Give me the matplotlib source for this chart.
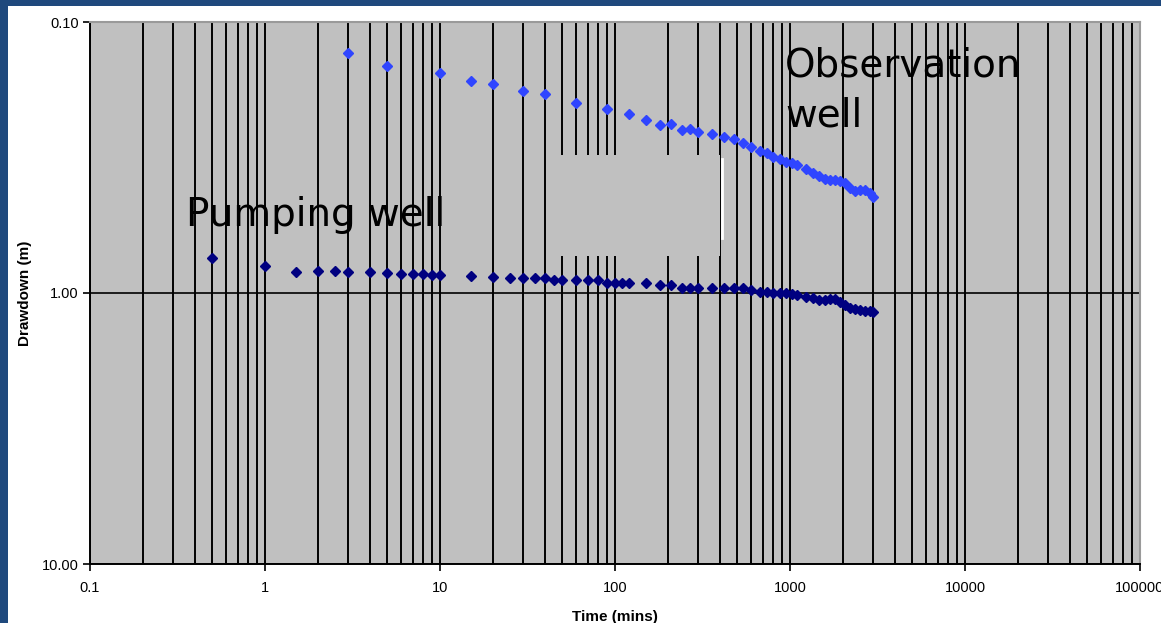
import numpy as np
import matplotlib.pyplot as plt
from matplotlib.patches import Rectangle
from matplotlib.ticker import FixedLocator, NullFormatter, LogLocator

# Time (mins) readings
t_pump = [0.5, 1, 1.5, 2, 2.5, 3, 4, 5, 6, 7, 8, 9, 10, 15, 20, 25, 30, 35, 40, 45,
          50, 60, 70, 80, 90, 100, 110, 120, 150, 180, 210, 240, 270, 300, 360, 420,
          480, 540, 600, 670, 740, 800, 880, 950, 1020, 1090, 1240, 1350, 1470, 1590,
          1700, 1810, 1930, 2060, 2200, 2350, 2510, 2680, 2860, 3000]
s_pump = [0.745, 0.794, 0.839, 0.827, 0.827, 0.839, 0.839, 0.846, 0.851, 0.851, 0.851,
          0.856, 0.856, 0.865, 0.871, 0.878, 0.883, 0.883, 0.883, 0.896, 0.896, 0.896,
          0.896, 0.896, 0.916, 0.916, 0.921, 0.921, 0.921, 0.937, 0.937, 0.956, 0.956,
          0.956, 0.956, 0.956, 0.956, 0.956, 0.975, 0.989, 0.994, 0.997, 1.003, 1.003,
          1.009, 1.017, 1.032, 1.046, 1.061, 1.061, 1.055, 1.055, 1.077, 1.107, 1.139,
          1.148, 1.155, 1.162, 1.165, 1.172]

t_obs = [3, 5, 10, 15, 20, 30, 40, 60, 90, 120, 150, 180, 210, 240, 270, 300, 360,
         420, 480, 540, 600, 670, 740, 800, 880, 950, 1020, 1090, 1240, 1350, 1470,
         1590, 1700, 1810, 1930, 2060, 2200, 2350, 2510, 2680, 2860, 3000]
s_obs = [0.1298, 0.145, 0.1546, 0.1646, 0.1693, 0.1797, 0.1843, 0.1995, 0.2094, 0.219,
         0.230, 0.240, 0.2386, 0.2504, 0.2489, 0.2553, 0.259, 0.265, 0.2703, 0.2789,
         0.2885, 0.2985, 0.3052, 0.3141, 0.3203, 0.3278, 0.3306, 0.3371, 0.3496, 0.3599,
         0.3701, 0.3806, 0.3828, 0.3828, 0.3861, 0.3917, 0.4108, 0.4192, 0.4168, 0.4168,
         0.4286, 0.4411]

x_labels = ['0.1', '1', '10', '100', '1000', '10000', '100000']
y_labels = ['0.10', '1.00', '10.00']

fig = plt.figure(figsize=(11.61, 6.23), dpi=100)
fig.patch.set_facecolor('white')

# dark blue slide border on top and left
border = '#1F497D'
fig.add_artist(Rectangle((0, 1 - 6 / 623), 1, 6 / 623, transform=fig.transFigure,
                         facecolor=border, edgecolor='none'))
fig.add_artist(Rectangle((0, 0), 8 / 1161, 1, transform=fig.transFigure,
                         facecolor=border, edgecolor='none'))

ax = fig.add_axes([90 / 1161, 59 / 623, 1050 / 1161, 542 / 623])
ax.set_facecolor('#C0C0C0')
ax.set_xscale('log')
ax.set_yscale('log')
ax.set_xlim(0.1, 100000)
ax.set_ylim(10, 0.1)

ax.xaxis.set_major_locator(FixedLocator([0.1, 1, 10, 100, 1000, 10000, 100000]))
ax.xaxis.set_minor_locator(LogLocator(base=10, subs=np.arange(2, 10), numticks=20))
ax.xaxis.set_minor_formatter(NullFormatter())
ax.set_xticklabels(x_labels)
ax.yaxis.set_major_locator(FixedLocator([0.1, 1, 10]))
ax.yaxis.set_minor_locator(FixedLocator([]))
ax.set_yticklabels(y_labels)

ax.grid(True, which='both', axis='x', color='black', linewidth=1.4)
ax.grid(True, which='major', axis='y', color='black', linewidth=1.2)
ax.set_axisbelow(True)

ax.tick_params(axis='x', which='major', direction='out', length=5, width=1.2,
               labelsize=10.5, pad=7)
ax.tick_params(axis='x', which='minor', length=0)
ax.tick_params(axis='y', which='major', direction='out', length=5, width=1.2,
               labelsize=10.5, pad=3)
for lab in ax.get_xticklabels() + ax.get_yticklabels():
    lab.set_family('Liberation Sans')

for side in ['left', 'bottom']:
    ax.spines[side].set_color('black')
    ax.spines[side].set_linewidth(1.4)
for side in ['top', 'right']:
    ax.spines[side].set_color('#9a9a9a')
    ax.spines[side].set_linewidth(1.5)

# blank patch over part of the plot area
ax.add_patch(Rectangle((0.435, 0.5683), 0.165, 0.1863, transform=ax.transAxes,
                       facecolor='#C0C0C0', edgecolor='none', zorder=1.5))
ax.plot([0.6015, 0.6015], [0.602, 0.7465], transform=ax.transAxes,
        color='white', linewidth=2, zorder=1.6)

ax.plot(t_pump, s_pump, linestyle='none', marker='D', markersize=5.3,
        color='#000080', zorder=3)
ax.plot(t_obs, s_obs, linestyle='none', marker='D', markersize=5.3,
        color='#2F45FF', zorder=3)

ax.text(0.662, 0.955, 'Observation\nwell', transform=ax.transAxes, fontsize=28,
        family='DejaVu Sans', va='top', ha='left', linespacing=1.4, zorder=4)
ax.text(0.091, 0.643, 'Pumping well', transform=ax.transAxes, fontsize=28,
        family='DejaVu Sans', va='center', ha='left', zorder=4)

ax.set_xlabel('Time (mins)', fontsize=11, fontweight='bold',
              family='Liberation Sans', labelpad=11)
ax.set_ylabel('Drawdown (m)', fontsize=11, fontweight='bold',
              family='Liberation Sans', labelpad=7)

fig.savefig('out.png', dpi=100)
